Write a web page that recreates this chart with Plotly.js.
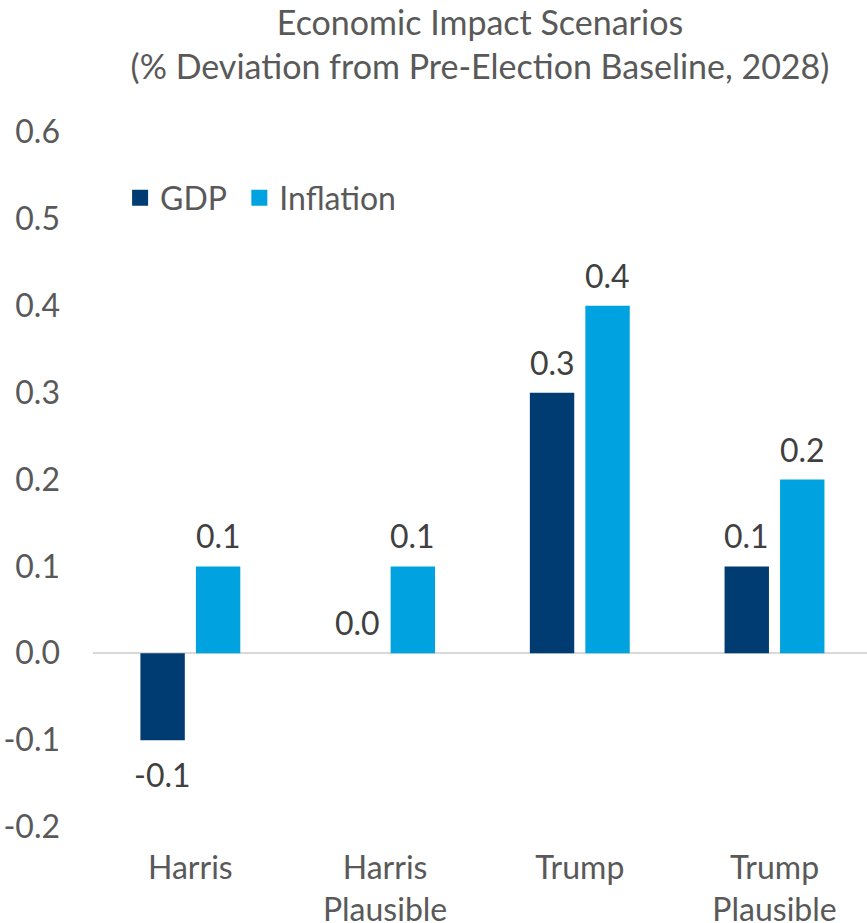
<!DOCTYPE html>
<html>
<head>
<meta charset="utf-8">
<script src="https://cdn.plot.ly/plotly-3.0.1.min.js"></script>
<style>html,body{margin:0;padding:0;background:#fff;}#chart{width:867px;height:923px;}</style>
</head>
<body>
<div id="chart"></div>
<script>
var categories = ["Harris", "Harris<br>Plausible", "Trump", "Trump<br>Plausible"];
var seriesNames = ["GDP", "Inflation"];
var gdpValues = [-0.1, 0.0, 0.3, 0.1];
var inflationValues = [0.1, 0.1, 0.4, 0.2];
var tickValues = [-0.2, -0.1, 0.0, 0.1, 0.2, 0.3, 0.4, 0.5, 0.6];
var tickLabels = ["-0.2", "-0.1", "0.0", "0.1", "0.2", "0.3", "0.4", "0.5", "0.6"];

var FONT = "Lato, 'Open Sans', sans-serif";
var COLORS = ["#003C71", "#00A3E0"];
function fmt(v) { return v.toFixed(1); }

var traces = [
  {
    type: "bar", name: seriesNames[0], x: categories, y: gdpValues,
    marker: {color: COLORS[0]}, hoverinfo: "none", showlegend: false
  },
  {
    type: "bar", name: seriesNames[1], x: categories, y: inflationValues,
    marker: {color: COLORS[1]}, hoverinfo: "none", showlegend: false
  },
  /* legend-only entries with larger square swatches */
  {
    type: "scatter", mode: "markers", name: seriesNames[0] + "\u00A0",
    x: [categories[0]], y: [null],
    marker: {symbol: "square", size: 18, color: COLORS[0]}, hoverinfo: "none"
  },
  {
    type: "scatter", mode: "markers", name: seriesNames[1],
    x: [categories[0]], y: [null],
    marker: {symbol: "square", size: 18, color: COLORS[1]}, hoverinfo: "none"
  }
];

function labelAnnotations(values, xshift) {
  return values.map(function (v, i) {
    var neg = v < 0;
    return {
      x: categories[i], y: v, xref: "x", yref: "y",
      text: fmt(v), showarrow: false,
      xanchor: "center", yanchor: neg ? "top" : "bottom",
      xshift: xshift, yshift: neg ? -13 : 9,
      font: {family: FONT, size: 32, color: "#404040"}
    };
  });
}
var annotations = labelAnnotations(gdpValues, -27.75).concat(labelAnnotations(inflationValues, 27.75));

var layout = {
  width: 867, height: 923,
  margin: {l: 93, r: 0, t: 132, b: 96},
  paper_bgcolor: "#fff", plot_bgcolor: "#fff",
  font: {family: FONT, size: 32, color: "#595959"},
  title: {
    text: "Economic Impact Scenarios<br>(% Deviation from Pre-Election Baseline, 2028)",
    font: {family: FONT, size: 34, color: "#595959"},
    x: 0.5, xref: "paper", xanchor: "center",
    yref: "container", y: 0.962, yanchor: "middle"
  },
  barmode: "group",
  bargap: 0.43,
  bargroupgap: 0.2,
  showlegend: true,
  legend: {
    orientation: "h", x: 0.035, xanchor: "left", y: 0.905, yanchor: "middle",
    font: {family: FONT, size: 32, color: "#595959"},
    bgcolor: "rgba(0,0,0,0)", itemwidth: 30, traceorder: "normal",
    itemsizing: "trace"
  },
  annotations: annotations,
  xaxis: {
    type: "category",
    range: [-0.5, 3.475],
    showgrid: false, showline: false, zeroline: false,
    ticks: "", ticklabelstandoff: 19,
    tickfont: {family: FONT, size: 32, color: "#595959"}
  },
  yaxis: {
    range: [-0.2, 0.6],
    tickmode: "array", tickvals: tickValues, ticktext: tickLabels,
    showgrid: false, showline: false,
    zeroline: true, zerolinecolor: "#d9d9d9", zerolinewidth: 2,
    ticks: "", ticklabelstandoff: 32,
    tickfont: {family: FONT, size: 32, color: "#595959"}
  }
};

Plotly.newPlot("chart", traces, layout, {staticPlot: true, displayModeBar: false});
</script>
</body>
</html>
